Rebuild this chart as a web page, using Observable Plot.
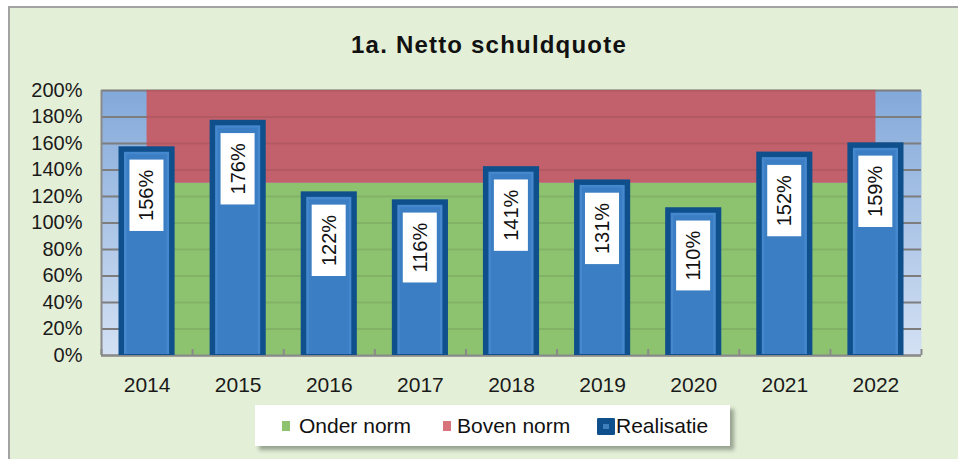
<!DOCTYPE html>
<html><head><meta charset="utf-8">
<script src="https://cdn.jsdelivr.net/npm/d3@7"></script>
<script src="https://cdn.jsdelivr.net/npm/@observablehq/plot@0.6"></script>
<style>
body{margin:0;background:#fff;font-family:Arial,"Liberation Sans",sans-serif;overflow:hidden;}
#frame{position:absolute;left:8px;top:6px;width:970px;height:480px;border:2px solid #a3a3a3;background:#E4EFD7;}
#title{position:absolute;left:10px;top:31px;width:958px;text-align:center;font-weight:bold;font-size:24px;line-height:28px;letter-spacing:1.2px;color:#111;}
#chart{position:absolute;left:0;top:0;}
#legend{position:absolute;left:255px;top:405px;width:475px;height:41px;background:#fff;box-shadow:4px 4px 4px rgba(60,70,60,0.45);}
.item{position:absolute;top:0;height:41px;line-height:41px;font-size:21px;color:#111;white-space:nowrap;}
.sw{position:absolute;}
</style></head>
<body>
<div id="frame"></div>
<div id="title">1a. Netto schuldquote</div>
<div id="chart"></div>
<div id="legend"></div>
<script>
// ---- data ----
const years = [2014, 2015, 2016, 2017, 2018, 2019, 2020, 2021, 2022];
const realisatie = [156, 176, 122, 116, 141, 131, 110, 152, 159];
const onderNorm = [0, 130];   // green band
const bovenNorm = [130, 200]; // red band
const yTicks = [0, 20, 40, 60, 80, 100, 120, 140, 160, 180, 200];
const legendLabels = ["Onder norm", "Boven norm", "Realisatie"];

const colors = {green: "#8DC26F", red: "#C2616B", dark: "#0E4F8C", ring: "#4588CE", fill: "#3B7EC3"};

const data = years.map((year, i) => ({year, value: realisatie[i]}));
const xDomain = [years[0] - 0.5, years[years.length - 1] + 0.5];
const boundaries = [xDomain[0], ...years.map(y => y + 0.5)];

const svg = Plot.plot({
  width: 958, height: 459,
  marginLeft: 101, marginRight: 37, marginTop: 90, marginBottom: 104,
  style: {background: "transparent", fontFamily: "Arial, 'Liberation Sans', sans-serif", color: "#1a1a1a", overflow: "visible"},
  x: {type: "linear", domain: xDomain, label: null},
  y: {domain: [0, 200], label: null},
  marks: [
    Plot.frame({fill: "url(#bgGrad)", stroke: null}),
    Plot.ruleY(yTicks, {stroke: "#7d7d7d", strokeWidth: 2}),
    Plot.areaY(years, {x: d => d, y1: onderNorm[0], y2: onderNorm[1], fill: colors.green}),
    Plot.areaY(years, {x: d => d, y1: bovenNorm[0], y2: bovenNorm[1], fill: colors.red}),
    Plot.ruleY(yTicks.slice(1), {x1: years[0], x2: years[years.length - 1], stroke: "#000", strokeOpacity: 0.08, strokeWidth: 2}),
    Plot.ruleY([0], {stroke: "#8a8a8a", strokeWidth: 2}),
    Plot.ruleX([xDomain[0]], {stroke: "#8a8a8a", strokeWidth: 2}),
    Plot.axisX(boundaries, {tickSize: -6, tickFormat: () => "", stroke: "#8a8a8a", strokeWidth: 2, label: null}),
    Plot.axisX(years, {tickSize: 0, tickPadding: 22, tickFormat: d => String(d), fontSize: 21, label: null}),
    Plot.axisY(yTicks, {tickSize: 0, tickPadding: 19, tickFormat: d => d + "%", fontSize: 20, label: null}),
    // bars: dark border, lighter ring, fill
    Plot.rectY(data, {x1: d => d.year - 0.5, x2: d => d.year + 0.5, y: "value", insetLeft: 17.5, insetRight: 17.5, insetTop: -2, fill: colors.dark}),
    Plot.rectY(data, {x1: d => d.year - 0.5, x2: d => d.year + 0.5, y: "value", insetLeft: 23, insetRight: 23, insetTop: 3.5, insetBottom: 1, fill: colors.ring}),
    Plot.rectY(data, {x1: d => d.year - 0.5, x2: d => d.year + 0.5, y: "value", insetLeft: 25.5, insetRight: 25.5, insetTop: 6, insetBottom: 1, fill: colors.fill}),
    Plot.text(data, {x: "year", y: "value", text: d => d.value + "%", rotate: -90, textAnchor: "end", dy: 21, fontSize: 20, fill: "#111"})
  ]
});

svg.insertAdjacentHTML("afterbegin",
  '<defs><linearGradient id="bgGrad" x1="0" y1="0" x2="0" y2="1">' +
  '<stop offset="0" stop-color="#83A9DA"/><stop offset="1" stop-color="#D4E1F3"/></linearGradient></defs>');
document.getElementById("chart").appendChild(svg);

// white boxes behind bar labels
const ns = "http://www.w3.org/2000/svg";
const sr = svg.getBoundingClientRect();
const textG = svg.querySelector('g[aria-label="text"]');
const boxG = document.createElementNS(ns, "g");
textG.querySelectorAll("text").forEach(t => {
  const r = t.getBoundingClientRect();
  const rect = document.createElementNS(ns, "rect");
  rect.setAttribute("x", r.left - sr.left - 6);
  rect.setAttribute("y", r.top - sr.top - 10);
  rect.setAttribute("width", r.width + 12);
  rect.setAttribute("height", r.height + 20);
  rect.setAttribute("fill", "#fff");
  boxG.appendChild(rect);
});
textG.parentNode.insertBefore(boxG, textG);

// legend
const legend = document.getElementById("legend");
const items = [
  {label: legendLabels[0], sw: `left:27px;top:16px;width:8px;height:10px;background:${colors.green}`, tx: 44},
  {label: legendLabels[1], sw: `left:188px;top:16px;width:8px;height:10px;background:#D9737B`, tx: 202},
  {label: legendLabels[2], sw: `left:342px;top:13px;width:18px;height:17px;background:${colors.dark};border-radius:2px;box-shadow:inset 0 0 0 6px ${colors.dark}, inset 0 0 0 9px #3E7FBE`, tx: 361}
];
items.forEach(it => {
  const s = document.createElement("div"); s.className = "sw"; s.style.cssText = it.sw; legend.appendChild(s);
  const t = document.createElement("div"); t.className = "item"; t.style.left = it.tx + "px"; t.textContent = it.label; legend.appendChild(t);
});
</script>
</body></html>
